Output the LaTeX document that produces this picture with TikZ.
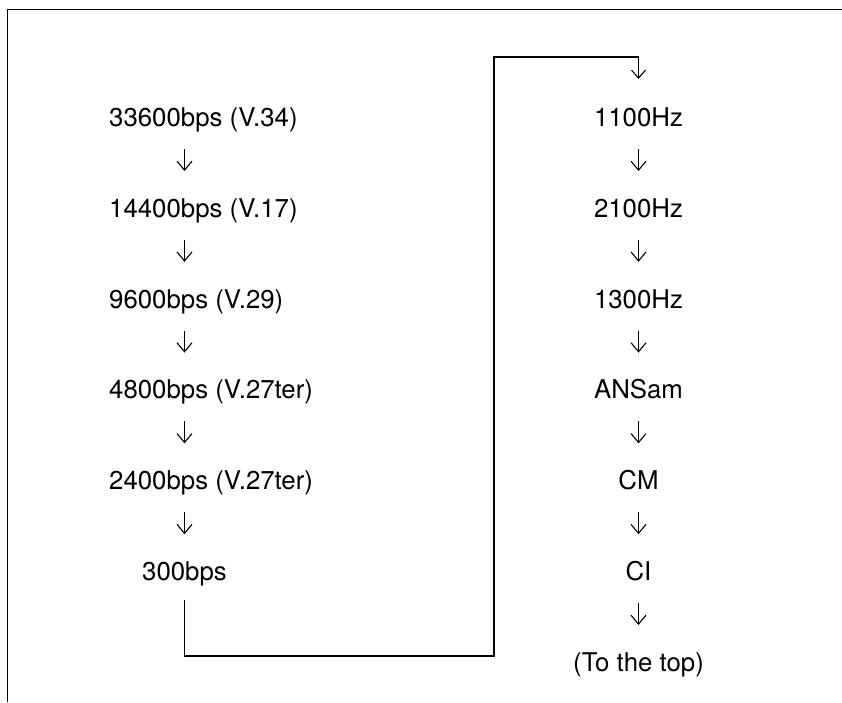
\documentclass[tikz,border=0pt]{standalone}
\usepackage{fontspec}
\setmainfont{TeX Gyre Heros}
\usetikzlibrary{arrows.meta}

\begin{document}
\begin{tikzpicture}[
    x=1pt, y=-1pt,
    lbl/.style={anchor=base, inner sep=0pt, font=\fontsize{25.8}{30}\selectfont},
    lleft/.style={lbl, anchor=base west},
    arr/.style={-{Straight Barb[length=9pt, width=15pt]}, line width=1.1pt,
      shorten <=22.5pt, shorten >=46.3pt},
    link/.style={-{Straight Barb[length=8pt, width=14pt]}, line width=1.1pt},
    frame/.style={line width=1.2pt}
  ]
  \useasboundingbox (0,0) rectangle (842,702);
  \draw[frame] (842,9.5) -- (7.5,9.5) -- (7.5,702);

  \node[lleft] (v34)  at (109,126.5) {33600bps (V.34)};
  \node[lleft] (v17)  at (109,217.3) {14400bps (V.17)};
  \node[lleft] (v29)  at (109,308.1) {9600bps (V.29)};
  \node[lleft] (v27a) at (109,398.9) {4800bps (V.27ter)};
  \node[lleft] (v27b) at (109,489.7) {2400bps (V.27ter)};
  \node[lbl]   (b300) at (184.5,580.5) {300bps};

  \node[lbl] (f1100) at (638.5,126.5) {1100Hz};
  \node[lbl] (f2100) at (638.5,217.3) {2100Hz};
  \node[lbl] (f1300) at (638.5,308.1) {1300Hz};
  \node[lbl] (ansam) at (638.5,398.9) {ANSam};
  \node[lbl] (cm)    at (638.5,489.7) {CM};
  \node[lbl] (ci)    at (638.5,580.5) {CI};
  \node[lbl] (totop) at (638.5,671.3) {(To the top)};

  \coordinate (lcol) at (184.5,0);
  \draw[arr] (v34.base -| lcol) -- (v17.base -| lcol);
  \draw[arr] (v17.base -| lcol) -- (v29.base -| lcol);
  \draw[arr] (v29.base -| lcol) -- (v27a.base -| lcol);
  \draw[arr] (v27a.base -| lcol) -- (v27b.base -| lcol);
  \draw[arr] (v27b.base -| lcol) -- (b300.base);

  \draw[arr] (f1100.base) -- (f2100.base);
  \draw[arr] (f2100.base) -- (f1300.base);
  \draw[arr] (f1300.base) -- (ansam.base);
  \draw[arr] (ansam.base) -- (cm.base);
  \draw[arr] (cm.base) -- (ci.base);
  \draw[arr] (ci.base) -- (totop.base);

  \coordinate (lowbend) at (494,656);
  \coordinate (topbend) at (494,57);
  \draw[link, shorten <=19pt, shorten >=47.5pt] (b300.base) |- (lowbend)
    -- (topbend) -| (f1100.base);
\end{tikzpicture}
\end{document}
